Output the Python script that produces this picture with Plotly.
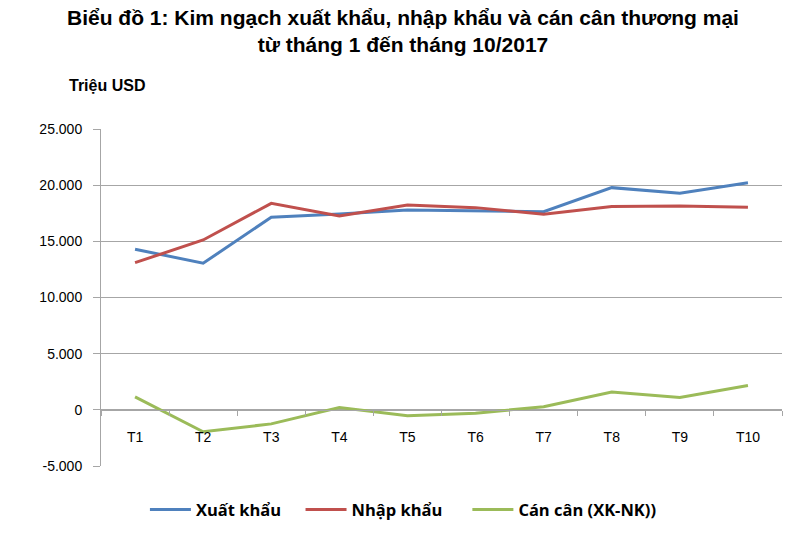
import plotly.graph_objects as go

months = ["T1", "T2", "T3", "T4", "T5", "T6", "T7", "T8", "T9", "T10"]
xuat_khau = [14300, 13050, 17150, 17440, 17800, 17700, 17640, 19780, 19280, 20220]
nhap_khau = [13100, 15120, 18380, 17260, 18240, 18000, 17410, 18090, 18150, 18030]
can_can = [1150, -1950, -1250, 200, -520, -300, 280, 1580, 1100, 2170]

y_ticks = [-5000, 0, 5000, 10000, 15000, 20000, 25000]
y_tick_labels = ["-5.000", "0", "5.000", "10.000", "15.000", "20.000", "25.000"]
y_range = [-5000, 25000]

series = [
    ("Xuất khẩu", xuat_khau, "#4F81BD", "legend"),
    ("Nhập khẩu", nhap_khau, "#C0504D", "legend2"),
    ("Cán cân (XK-NK))", can_can, "#9BBB59", "legend3"),
]

fig = go.Figure()
for name, vals, color, leg in series:
    fig.add_trace(go.Scatter(x=months, y=vals, name=name, mode="lines", legend=leg,
                             line=dict(color=color, width=3)))

grid_col = "#A6A6A6"
zero_pos = (0 - y_range[0]) / (y_range[1] - y_range[0])
base_font = "Liberation Sans, Arial, sans-serif"
legend_font = dict(family="Open Sans, sans-serif", size=16.5, color="#000000", weight="bold")


def leg(xpos):
    return dict(orientation="h", x=xpos, xanchor="left", y=-0.13, yanchor="middle",
                font=legend_font, itemwidth=41, bgcolor="rgba(0,0,0,0)")


fig.update_layout(
    width=800, height=549,
    margin=dict(l=101, r=18, t=129, b=83),
    paper_bgcolor="white", plot_bgcolor="white",
    font=dict(family=base_font, size=14, color="#000000"),
    showlegend=True,
    legend=leg(0.0645),
    legend2=leg(0.293),
    legend3=leg(0.538),
    xaxis=dict(
        type="category", range=[-0.5, len(months) - 0.5],
        anchor="free", position=zero_pos,
        showline=True, linecolor=grid_col, linewidth=1,
        ticks="outside", tickson="boundaries", ticklen=5, tickcolor=grid_col,
        showgrid=False, ticklabelstandoff=14,
        tickfont=dict(size=14),
    ),
    yaxis=dict(
        range=y_range, tickvals=y_ticks, ticktext=y_tick_labels,
        showline=True, linecolor=grid_col, linewidth=1,
        ticks="outside", ticklen=7, tickcolor=grid_col,
        showgrid=True, gridcolor=grid_col, gridwidth=1,
        zeroline=False, ticklabelstandoff=8,
        tickfont=dict(size=14),
    ),
    annotations=[
        dict(text="<b>Biểu đồ 1: Kim ngạch xuất khẩu, nhập khẩu và cán cân thương mại<br>từ tháng 1 đến tháng 10/2017</b>",
             xref="paper", yref="paper", x=(403 - 101) / 682, y=1 + (129 - 4) / 337,
             xanchor="center", yanchor="top", showarrow=False,
             font=dict(family=base_font, size=21, color="#000000")),
        dict(text="<b>Triệu USD</b>", xref="paper", yref="paper",
             x=-0.05, y=1.128, xanchor="left", yanchor="middle",
             showarrow=False, font=dict(family=base_font, size=16, color="#000000")),
    ],
)

fig.write_html("out.html")
